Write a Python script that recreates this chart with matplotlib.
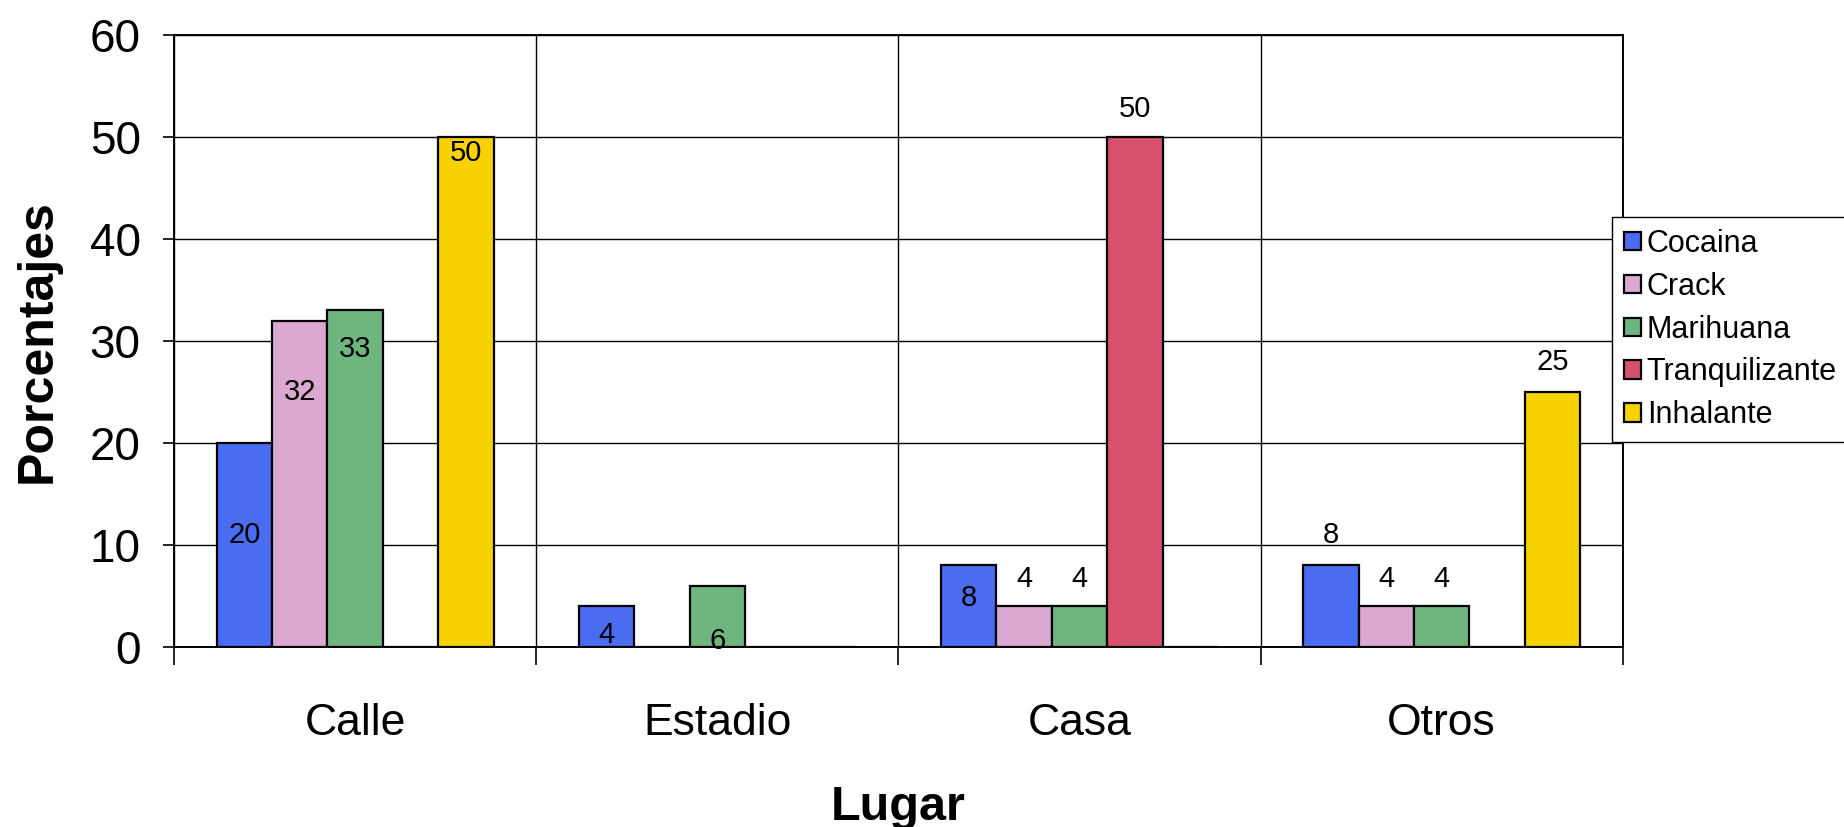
import matplotlib
matplotlib.use("Agg")
import matplotlib.pyplot as plt
import numpy as np

lugares = ["Calle", "Estadio", "Casa", "Otros"]
sustancias = ["Cocaina", "Crack", "Marihuana", "Tranquilizante", "Inhalante"]

cocaina = [20, 4, 8, 8]
crack = [32, 0, 4, 4]
marihuana = [33, 6, 4, 4]
tranquilizante = [0, 0, 50, 0]
inhalante = [50, 0, 0, 25]

colores = ["#4a6cf0", "#dba8d2", "#6fb57f", "#d8506c", "#f5d200"]

# desplazamiento vertical de cada etiqueta respecto al tope de su barra
etiqueta_dy = [
    [-9.0, -2.85, -3.2, 3.0],
    [-7.0, 0, 2.7, 2.7],
    [-3.8, -5.4, 2.7, 2.7],
    [0, 0, 2.7, 0],
    [-1.6, 0, 0, 2.9],
]

series = [cocaina, crack, marihuana, tranquilizante, inhalante]

plt.rcParams["font.family"] = ["Liberation Sans", "DejaVu Sans"]

fig = plt.figure(figsize=(18.44, 8.27), dpi=100)
ax = fig.add_axes([0.0944, 0.2177, 0.7856, 0.74])

x = np.arange(len(lugares))
ancho = 0.153

for j, (nombre, valores) in enumerate(zip(sustancias, series)):
    pos = x + (j - 2) * ancho
    ax.bar(pos, valores, width=ancho, color=colores[j], edgecolor="black",
           linewidth=1.6, label=nombre, zorder=3)
    for k, v in enumerate(valores):
        if v > 0:
            ax.text(pos[k], v + etiqueta_dy[j][k], str(v), ha="center",
                    va="center", fontsize=21, zorder=4)

ax.set_xlim(-0.5, len(lugares) - 0.5)
ax.set_ylim(0, 60)
ax.set_yticks(range(0, 61, 10))

# divisiones entre categorías como ticks mayores, nombres como menores
ax.set_xticks(np.arange(-0.5, len(lugares), 1.0))
ax.set_xticklabels([])
ax.set_xticks(x, minor=True)
ax.set_xticklabels(lugares, minor=True, fontsize=32)
ax.tick_params(axis="x", which="major", length=13, width=1.2, direction="out")
ax.tick_params(axis="x", which="minor", length=0, pad=40)
ax.tick_params(axis="y", labelsize=33, length=8, width=1.2, pad=16)

ax.grid(True, which="major", color="black", linewidth=1.0, zorder=0)
for s in ax.spines.values():
    s.set_linewidth(1.4)

ax.set_ylabel("Porcentajes", fontsize=36, fontweight="bold", va="center")
ax.yaxis.set_label_coords(-0.094, 0.5)
ax.set_xlabel("Lugar", fontsize=35, fontweight="bold", va="center")
ax.xaxis.set_label_coords(0.5, -0.262)

leg = fig.legend(loc="upper left", bbox_to_anchor=(0.874, 0.738),
                 fontsize=22, handlelength=0.55, handleheight=0.55,
                 handletextpad=0.2, labelspacing=0.42, borderpad=0.4,
                 borderaxespad=0, fancybox=False, framealpha=1,
                 edgecolor="black")
leg.get_frame().set_linewidth(1.0)

fig.savefig("out.png", dpi=100)
